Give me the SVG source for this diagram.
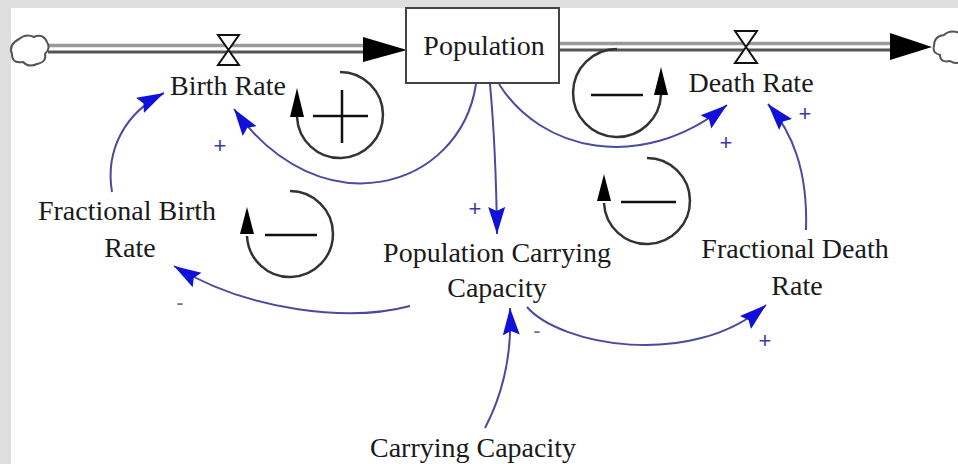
<svg xmlns="http://www.w3.org/2000/svg" width="958" height="464" viewBox="0 0 958 464">
<defs>
<style>
.lbl{font-family:"Liberation Serif","Times New Roman",serif;font-size:28px;fill:#1a1a1a;text-anchor:middle}
.pol{font-family:"Liberation Sans",Arial,sans-serif;font-size:22px;text-anchor:middle}
.plus{fill:#3a3aa8}
.minus{fill:#777}
.link{fill:none;stroke:#4a4aa0;stroke-width:2;marker-end:url(#ah)}
.loop{fill:none;stroke:#333;stroke-width:2.5}
.loophead{fill:#000}
.pipeA{stroke:#9a9a9a;stroke-width:3.5}
.pipeB{stroke:#555;stroke-width:3}
.valve{fill:#fff;stroke:#111;stroke-width:2}
.cloud{fill:#fff;stroke:#555;stroke-width:2}
</style>
<marker id="ah" markerUnits="userSpaceOnUse" markerWidth="28" markerHeight="20" refX="27" refY="10" orient="auto">
<path d="M0,1.5 L27,10 L0,18.5 L4,10 z" fill="#1010d8"/>
</marker>
</defs>
<rect x="0" y="0" width="958" height="464" fill="#fff"/>
<rect x="0" y="0" width="958" height="8" fill="#dedede"/>
<rect x="0" y="0" width="11" height="464" fill="#dedede"/>

<g id="flows">
<line class="pipeA" x1="48" y1="45.5" x2="366" y2="45.5"/>
<line class="pipeB" x1="48" y1="52" x2="366" y2="52"/>
<polygon points="363,37 363,62 407,50" fill="#000"/>
<line class="pipeA" x1="559" y1="43.5" x2="892" y2="43.5"/>
<line class="pipeB" x1="559" y1="50" x2="892" y2="50"/>
<polygon points="890,33 890,60 932,47" fill="#000"/>
</g>

<g id="source-cloud">
<path class="cloud" d="M19 39 q7 -6 15 -2 q9 -4 13 5 q4 6 -2 12 q2 8 -8 10 q-8 4 -14 -2 q-11 2 -11 -8 q-4 -9 7 -15 z"/>
</g>
<g id="sink-cloud">
<path class="cloud" d="M934 46 q0 -10 10 -11 q6 -6 16 -2 l2 28 q-6 4 -12 0 q-10 2 -10 -6 q-8 -2 -6 -9 z"/>
</g>

<g id="birth-rate">
<polygon class="valve" points="218,35 239,35 228.5,50 218,65 239,65 228.5,50"/>
<text class="lbl" x="228" y="95">Birth Rate</text>
</g>
<g id="death-rate">
<polygon class="valve" points="735,31 757,31 746,47 735,63 757,63 746,47"/>
<text class="lbl" x="751" y="92">Death Rate</text>
</g>

<g id="population">
<rect x="406" y="8" width="153" height="75" fill="#fff" stroke="#444" stroke-width="2"/>
<text class="lbl" x="484" y="55">Population</text>
</g>

<g id="fractional-birth-rate">
<text class="lbl" x="127" y="220">Fractional Birth</text>
<text class="lbl" x="130" y="257">Rate</text>
</g>
<g id="population-carrying-capacity">
<text class="lbl" x="497" y="262">Population Carrying</text>
<text class="lbl" x="497" y="297">Capacity</text>
</g>
<g id="fractional-death-rate">
<text class="lbl" x="795" y="258">Fractional Death</text>
<text class="lbl" x="797" y="295">Rate</text>
</g>
<g id="carrying-capacity">
<text class="lbl" x="473" y="457">Carrying Capacity</text>
</g>

<g id="loops">
<path class="loop" d="M340 72 A43 43 0 1 1 297 117"/>
<polygon class="loophead" points="290,117 304,117 297,88"/>
<path d="M313 116 H368 M342 90 V143" stroke="#111" stroke-width="2.5"/>

<path class="loop" d="M617 49 A44 44 0 1 0 661 95"/>
<polygon class="loophead" points="654,95 668,95 661,67"/>
<path d="M591 95 H643" stroke="#111" stroke-width="2.5"/>

<path class="loop" d="M290 191 A43 43 0 1 1 247 236"/>
<polygon class="loophead" points="240,234 254,234 247,207"/>
<path d="M265 235 H317" stroke="#111" stroke-width="2.5"/>

<path class="loop" d="M647 158 A43 43 0 1 1 604 203"/>
<polygon class="loophead" points="597,201 611,201 604,174"/>
<path d="M621 202 H676" stroke="#111" stroke-width="2.5"/>
</g>

<g id="connectors">
<path class="link" d="M476 84 C460 190, 320 230, 234 109"/>
<path class="link" d="M112 192 C105 150, 125 113, 164 93"/>
<path class="link" d="M499 84 C540 150, 640 175, 727 105"/>
<path class="link" d="M806 230 C808 170, 792 132, 768 104"/>
<path class="link" d="M490 84 Q496 150 497 234"/>
<path class="link" d="M410 306 C350 322, 250 312, 174 266"/>
<path class="link" d="M485 428 C505 390, 512 350, 510 308"/>
<path class="link" d="M527 307 C560 345, 690 370, 766 305"/>
</g>

<g id="polarities">
<text class="pol plus" x="220" y="153">+</text>
<text class="pol plus" x="726" y="150">+</text>
<text class="pol plus" x="805" y="121">+</text>
<text class="pol plus" x="475" y="216">+</text>
<text class="pol plus" x="765" y="348">+</text>
<text class="pol minus" x="180" y="310">-</text>
<text class="pol minus" x="537" y="338">-</text>
</g>
</svg>
